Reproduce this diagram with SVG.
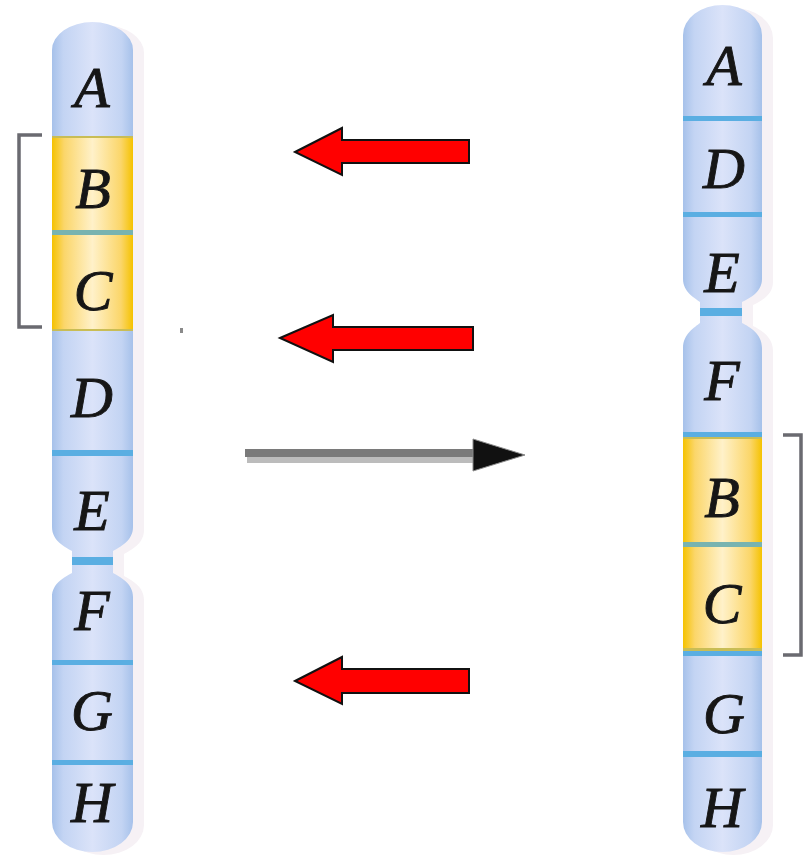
<svg xmlns="http://www.w3.org/2000/svg" width="803" height="867" viewBox="0 0 803 867">
  <defs>
    <linearGradient id="blueBody" x1="0" y1="0" x2="1" y2="0">
      <stop offset="0" stop-color="#a6c1ea"/>
      <stop offset="0.14" stop-color="#c3d4f3"/>
      <stop offset="0.5" stop-color="#dbe3f9"/>
      <stop offset="0.86" stop-color="#c3d4f3"/>
      <stop offset="1" stop-color="#a6c1ea"/>
    </linearGradient>
    <linearGradient id="yellowBody" x1="0" y1="0" x2="1" y2="0">
      <stop offset="0" stop-color="#f5c200"/>
      <stop offset="0.15" stop-color="#fbd66a"/>
      <stop offset="0.5" stop-color="#fff1c9"/>
      <stop offset="0.85" stop-color="#fbd66a"/>
      <stop offset="1" stop-color="#f5c200"/>
    </linearGradient>
    <clipPath id="clipLeft">
      <path d="M52,50 A40.5,28 0 0 1 133,50 L133,527 C133,541 120,547 113,551 L113,573 C120,577 133,583 133,597 L133,822 A40.5,30 0 0 1 52,822 L52,597 C52,583 65,577 72,573 L72,551 C65,547 52,541 52,527 Z"/>
    </clipPath>
    <clipPath id="clipRight">
      <path d="M683,35 A39.5,30 0 0 1 762,35 L762,279 C762,292 750,298 742,302 L742,323 C750,327 762,334 762,348 L762,822 A39.5,30 0 0 1 683,822 L683,348 C683,334 695,327 700,323 L700,302 C695,298 683,292 683,279 Z"/>
    </clipPath>
  </defs>
  <style>
    .shadow { fill: #f6f1f5; }
    .blue { fill: url(#blueBody); }
    .yellow { fill: url(#yellowBody); }
    .band { fill: #5aaee2; }
    .bandTeal { fill: #78b3b0; }
    .edgeOlive { fill: #c9bd55; }
    .label { font-family: "Liberation Serif", "Times New Roman", serif; font-style: italic; font-size: 58px; fill: #161616; stroke: #161616; stroke-width: 0.9; text-anchor: middle; }
    .bracket { fill: none; stroke: #6a6a70; stroke-width: 3.5; }
    .red { fill: #ff0000; stroke: #111; stroke-width: 2; stroke-linejoin: miter; }
  </style>

  <rect width="803" height="867" fill="#ffffff"/>

  <!-- left chromosome: A B C D E / F G H -->
  <g id="chromosome-left">
    <path class="shadow" transform="translate(11,3)" d="M52,50 A40.5,28 0 0 1 133,50 L133,527 C133,541 120,547 113,551 L113,573 C120,577 133,583 133,597 L133,822 A40.5,30 0 0 1 52,822 L52,597 C52,583 65,577 72,573 L72,551 C65,547 52,541 52,527 Z"/>
    <g clip-path="url(#clipLeft)">
      <rect class="blue" x="52" y="15" width="81" height="845"/>
      <rect class="yellow" x="52" y="137" width="81" height="193"/>
      <rect class="edgeOlive" x="52" y="136" width="81" height="2"/>
      <rect class="edgeOlive" x="52" y="329" width="81" height="2"/>
      <rect class="bandTeal" x="52" y="230" width="81" height="5"/>
      <rect class="band" x="52" y="450" width="81" height="6"/>
      <rect class="band" x="52" y="557" width="81" height="8"/>
      <rect class="band" x="52" y="660" width="81" height="5"/>
      <rect class="band" x="52" y="760" width="81" height="5"/>
    </g>
    <text class="label" x="92" y="107">A</text>
    <text class="label" x="93" y="208">B</text>
    <text class="label" x="93" y="310">C</text>
    <text class="label" x="92" y="417">D</text>
    <text class="label" x="92" y="530">E</text>
    <text class="label" x="92" y="630">F</text>
    <text class="label" x="92" y="730">G</text>
    <text class="label" x="92" y="822">H</text>
  </g>

  <!-- right chromosome: A D E / F B C G H -->
  <g id="chromosome-right">
    <path class="shadow" transform="translate(11,3)" d="M683,35 A39.5,30 0 0 1 762,35 L762,279 C762,292 750,298 742,302 L742,323 C750,327 762,334 762,348 L762,822 A39.5,30 0 0 1 683,822 L683,348 C683,334 695,327 700,323 L700,302 C695,298 683,292 683,279 Z"/>
    <g clip-path="url(#clipRight)">
      <rect class="blue" x="683" y="0" width="79" height="860"/>
      <rect class="yellow" x="683" y="437" width="79" height="215"/>
      <rect class="edgeOlive" x="683" y="436" width="79" height="3"/>
      <rect class="edgeOlive" x="683" y="648" width="79" height="3"/>
      <rect class="band" x="683" y="116" width="79" height="5"/>
      <rect class="band" x="683" y="212" width="79" height="5"/>
      <rect class="band" x="683" y="308" width="79" height="8"/>
      <rect class="band" x="683" y="432" width="79" height="5"/>
      <rect class="bandTeal" x="683" y="542" width="79" height="5"/>
      <rect class="band" x="683" y="651" width="79" height="5"/>
      <rect class="band" x="683" y="751" width="79" height="6"/>
    </g>
    <text class="label" x="724" y="85">A</text>
    <text class="label" x="724" y="188">D</text>
    <text class="label" x="722" y="292">E</text>
    <text class="label" x="722" y="400">F</text>
    <text class="label" x="722" y="517">B</text>
    <text class="label" x="722" y="623">C</text>
    <text class="label" x="724" y="733">G</text>
    <text class="label" x="722" y="827">H</text>
  </g>

  <!-- brackets marking the B–C segment -->
  <g id="bracket-left">
    <path class="bracket" d="M42,135 H19 V327 H42"/>
  </g>
  <g id="bracket-right">
    <path class="bracket" d="M783,435 H801 V655 H783"/>
  </g>

  <!-- stray mark -->
  <rect x="180" y="328" width="3" height="5" fill="#8a8a8a"/>

  <g id="connectors">
    <!-- grey transfer arrow -->
    <rect x="245" y="449" width="230" height="8" fill="#7a7a7a"/>
    <rect x="247" y="457" width="228" height="6" fill="#bcbcbc"/>
    <polygon points="473,439 525,455 473,471" fill="#111111" stroke="#8a8a8a" stroke-width="1"/>
    <!-- red pointer arrows -->
    <polygon class="red" points="295,152 342,128 342,140 469,140 469,163 342,163 342,175"/>
    <polygon class="red" points="280,338 333,315 333,327 473,327 473,350 333,350 333,362"/>
    <polygon class="red" points="295,681 342,657 342,669 469,669 469,693 342,693 342,704"/>
  </g>
</svg>
